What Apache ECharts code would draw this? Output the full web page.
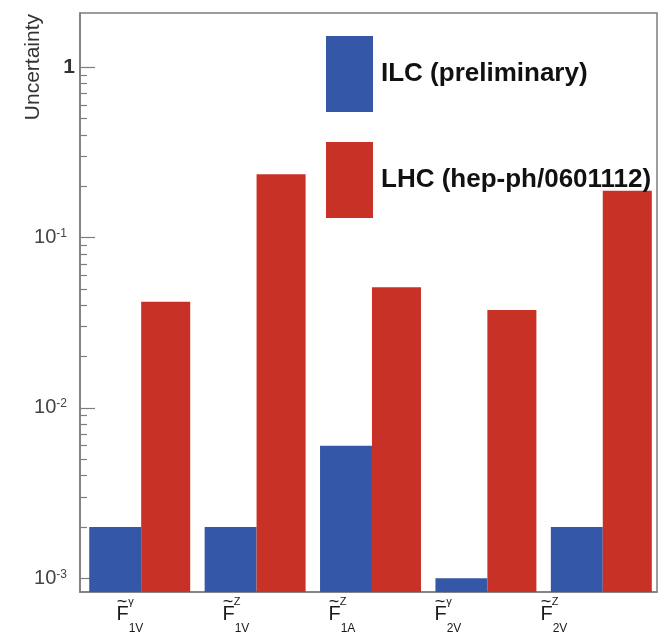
<!DOCTYPE html>
<html>
<head>
<meta charset="utf-8">
<script src="https://cdn.jsdelivr.net/npm/echarts@6/dist/echarts.min.js"></script>
<style>
  html, body { margin: 0; padding: 0; background: #fff; }
  #chart { width: 664px; height: 641px; }
</style>
</head>
<body>
<div id="chart"></div>
<script>
// Couplings (categories), with the pieces of their typeset labels
const categories = ['F1V_gamma', 'F1V_Z', 'F1A_Z', 'F2V_gamma', 'F2V_Z'];
const labelSup = ['γ', 'Z', 'Z', 'γ', 'Z'];
const labelSub = ['1V', '1V', '1A', '2V', '2V'];

// Uncertainty per coupling
const ilcValues = [0.002, 0.002, 0.006, 0.001, 0.002];
const lhcValues = [0.042, 0.235, 0.051, 0.0375, 0.188];

// Logarithmic value axis
const yMin = 0.00083;
const yMax = 2.08;
const decadeTicks = [0.001, 0.01, 0.1, 1];
const minorMultipliers = [2, 3, 4, 5, 6, 7, 8, 9];

const seriesNames = ['ILC (preliminary)', 'LHC (hep-ph/0601112)'];
const colors = ['#3457a8', '#c83226'];

const minorTicks = [];
decadeTicks.slice(0, 3).forEach(d => minorMultipliers.forEach(m => minorTicks.push(+(d * m).toPrecision(3))));

const chart = echarts.init(document.getElementById('chart'), null, { renderer: 'canvas' });

// Bars are drawn from the bottom of the plot up to the value
function barRenderer(offsetFrac, widthFrac) {
  return function (params, api) {
    const idx = api.value(0);
    const top = api.coord([idx, api.value(1)]);
    const band = api.size([1, 0])[0];
    const bottom = params.coordSys.y + params.coordSys.height;
    return {
      type: 'rect',
      shape: { x: top[0] + band * offsetFrac, y: top[1], width: band * widthFrac, height: bottom - top[1] },
      style: { fill: api.visual('color') }
    };
  };
}

const toData = vals => vals.map((v, i) => [i, v]);

const labelAxisBase = {
  type: 'category',
  gridIndex: 1,
  position: 'bottom',
  offset: 0,
  data: categories,
  boundaryGap: true,
  axisLine: { show: false, onZero: false },
  axisTick: { show: false },
  splitLine: { show: false }
};

const option = {
  animation: false,
  backgroundColor: '#fff',
  textStyle: { fontFamily: 'Liberation Sans, Arial, sans-serif' },
  grid: [
    { left: 80, right: 7, top: 13, bottom: 49, show: true, borderColor: '#7d7d7d', borderWidth: 1.5, containLabel: false },
    { left: 77, right: 57, top: 13, bottom: 49, show: false }
  ],
  legend: {
    orient: 'vertical',
    left: 326,
    top: 36,
    padding: 0,
    itemWidth: 47,
    itemHeight: 76,
    itemGap: 30,
    icon: 'rect',
    data: seriesNames,
    textStyle: { fontSize: 26, fontWeight: 'bold', color: '#111', padding: [6, 0, 0, 3] },
    selectedMode: false
  },
  xAxis: [
    {
      type: 'category',
      gridIndex: 0,
      position: 'bottom',
      data: categories,
      axisLine: { show: true, onZero: false, lineStyle: { color: '#7d7d7d', width: 1.5 } },
      axisTick: { show: false },
      axisLabel: { show: false },
      splitLine: { show: false }
    },
    Object.assign({}, labelAxisBase, {
      axisLabel: {
        margin: 12, interval: 0,
        formatter: () => '{f|F}{e| }',
        rich: {
          f: { fontSize: 20, width: 12, align: 'center', color: '#1a1a1a', lineHeight: 21 },
          e: { fontSize: 12, width: 15, lineHeight: 21 }
        }
      }
    }),
    Object.assign({}, labelAxisBase, {
      axisLabel: {
        margin: 4, interval: 0,
        formatter: (v, i) => '{t|~}{s|' + labelSup[i] + '}{p| }',
        rich: {
          t: { fontSize: 18, width: 11, align: 'center', color: '#1a1a1a', lineHeight: 12 },
          s: { fontSize: 11, width: 7, color: '#1a1a1a', lineHeight: 12 },
          p: { fontSize: 11, width: 9, lineHeight: 12 }
        }
      }
    }),
    Object.assign({}, labelAxisBase, {
      axisLabel: {
        margin: 30, interval: 0,
        formatter: (v, i) => '{e| }{s|' + labelSub[i] + '}',
        rich: {
          e: { fontSize: 12, width: 12, lineHeight: 13 },
          s: { fontSize: 12, width: 15, color: '#1a1a1a', lineHeight: 13 }
        }
      }
    })
  ],
  yAxis: [
    {
      type: 'log',
      logBase: 10,
      gridIndex: 0,
      position: 'left',
      min: yMin,
      max: yMax,
      axisLine: { show: true, onZero: false, lineStyle: { color: '#7d7d7d', width: 1.5 } },
      axisTick: { show: true, inside: true, length: 15, customValues: decadeTicks, lineStyle: { color: '#7d7d7d', width: 1.2 } },
      axisLabel: {
        customValues: decadeTicks,
        margin: 5,
        formatter: v => {
          const e = Math.round(Math.log10(v));
          return e === 0 ? '{one|1}' : '{b|10}{s|' + e + '}';
        },
        rich: {
          one: { fontSize: 21, fontWeight: 'bold', color: '#333', lineHeight: 20 },
          b: { fontSize: 20, color: '#444', lineHeight: 20 },
          s: { fontSize: 12, color: '#444', lineHeight: 12, verticalAlign: 'top', padding: [0, 8, 0, 0] }
        }
      },
      splitLine: { show: false }
    },
    {
      type: 'log',
      logBase: 10,
      gridIndex: 0,
      position: 'left',
      offset: 0,
      min: yMin,
      max: yMax,
      axisLine: { show: false, onZero: false },
      axisTick: { show: true, inside: true, length: 7, customValues: minorTicks, lineStyle: { color: '#7d7d7d', width: 1.2 } },
      axisLabel: { show: false },
      splitLine: { show: false }
    },
    { type: 'value', gridIndex: 1, show: false }
  ],
  graphic: [
    {
      type: 'text',
      x: 33, y: 14,
      rotation: Math.PI / 2,
      style: { text: 'Uncertainty', fontSize: 21, fill: '#333', align: 'right', verticalAlign: 'middle', fontFamily: 'Liberation Sans, Arial, sans-serif' }
    }
  ],
  series: [
    {
      name: seriesNames[0],
      type: 'custom',
      xAxisIndex: 0, yAxisIndex: 0,
      itemStyle: { color: colors[0] },
      renderItem: barRenderer(-0.42, 0.45),
      encode: { x: 0, y: 1 },
      clip: true,
      data: toData(ilcValues)
    },
    {
      name: seriesNames[1],
      type: 'custom',
      xAxisIndex: 0, yAxisIndex: 0,
      itemStyle: { color: colors[1] },
      renderItem: barRenderer(0.03, 0.425),
      encode: { x: 0, y: 1 },
      clip: true,
      data: toData(lhcValues)
    }
  ]
};

chart.setOption(option);
</script>
</body>
</html>
